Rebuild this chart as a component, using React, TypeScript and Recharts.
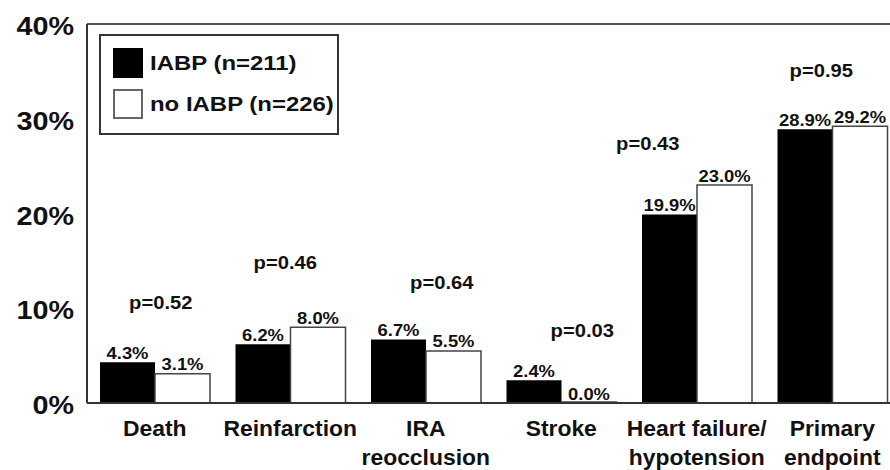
import React from "react";
import { BarChart, Bar, XAxis, YAxis, LabelList, ReferenceLine, ReferenceDot, Legend } from "recharts";

// ─── Data ─────────────────────────────────────────────────────────────────────

const CATEGORIES = [
    "Death",
    "Reinfarction",
    "IRA\nreocclusion",
    "Stroke",
    "Heart failure/\nhypotension",
    "Primary\nendpoint",
];
const IABP = [4.3, 6.2, 6.7, 2.4, 19.9, 28.9];
const NO_IABP = [3.1, 8.0, 5.5, 0.0, 23.0, 29.2];
const P_VALUES = ["p=0.52", "p=0.46", "p=0.64", "p=0.03", "p=0.43", "p=0.95"];
const Y_TICKS = [0, 10, 20, 30, 40];

// where each p-value sits: offset from group centre (px) and height (in %)
const P_PLACE = [
    { dx: 6, at: 10.6 },
    { dx: -5, at: 14.8 },
    { dx: 16, at: 12.7 },
    { dx: 21, at: 7.7 },
    { dx: -49, at: 27.4 },
    { dx: -11, at: 35.1 },
];

const rows = CATEGORIES.map((name, i) => ({ name, iabp: IABP[i], noIabp: NO_IABP[i] }));

const FONT = "'Liberation Sans', Arial, Helvetica, sans-serif";
const INK = "#111";

// text drawn slightly wider than the font, like the scanned figure
function Wide({ x, y, sx, size, anchor, children }: any) {
    return (
        <text
            transform={`translate(${x},${y}) scale(${sx},1)`}
            textAnchor={anchor}
            fontSize={size}
            fontWeight="bold"
            fontFamily={FONT}
            fill={INK}
        >
            {children}
        </text>
    );
}

function YTick({ x, y, payload }: any) {
    return (
        <Wide x={x} y={y + 11} sx={1.15} size={25} anchor="end">
            {payload.value}%
        </Wide>
    );
}

function XTick({ x, y, payload }: any) {
    const lines = String(payload.value).split("\n");
    return (
        <g>
            {lines.map((l, i) => (
                <Wide key={i} x={x} y={y + 33 + i * 29} sx={1.04} size={22} anchor="middle">
                    {l}
                </Wide>
            ))}
        </g>
    );
}

function ValueLabel({ x, y, width, height, value }: any) {
    // bars of 0 get a 1px minimum; label from the real baseline
    const top = Number(value) === 0 ? y + height : y;
    return (
        <Wide x={x + width / 2} y={top - 3.5} sx={1.15} size={16} anchor="middle">
            {Number(value).toFixed(1)}%
        </Wide>
    );
}

function LegendBox({ payload }: any) {
    return (
        <div
            style={{
                width: 240,
                height: 101,
                boxSizing: "border-box",
                border: "2px solid #333",
                background: "#fff",
                position: "relative",
                fontFamily: FONT,
            }}
        >
            {(payload || []).map((p: any, i: number) => (
                <div
                    key={i}
                    style={{ position: "absolute", left: 12, top: 12 + i * 41, display: "flex", alignItems: "center" }}
                >
                    <span
                        style={{
                            width: 30,
                            height: 30,
                            boxSizing: "border-box",
                            background: p.color,
                            border: i === 0 ? "none" : "2px solid #666",
                            display: "inline-block",
                        }}
                    />
                    <span
                        style={{
                            marginLeft: 7,
                            fontSize: 21,
                            fontWeight: "bold",
                            color: INK,
                            whiteSpace: "nowrap",
                            transform: "scaleX(1.14)",
                            transformOrigin: "left center",
                            display: "inline-block",
                        }}
                    >
                        {p.value}
                    </span>
                </div>
            ))}
        </div>
    );
}

export default function App() {
    return (
        <div style={{ position: "absolute", left: 0, top: 0, width: 890, height: 470, overflow: "hidden", background: "#fff" }}>
            <BarChart
                width={900}
                height={470}
                data={rows}
                margin={{ top: 24, right: 0, bottom: 0, left: 0 }}
                barSize={55}
                barGap={0}
            >
                <XAxis
                    dataKey="name"
                    height={67}
                    interval={0}
                    tick={<XTick />}
                    tickLine={false}
                    tickSize={0}
                    tickMargin={0}
                    axisLine={{ stroke: "#333", strokeWidth: 2 }}
                />
                <YAxis
                    width={87}
                    domain={[0, 40]}
                    ticks={Y_TICKS}
                    interval={0}
                    tick={<YTick />}
                    tickLine={false}
                    tickSize={0}
                    tickMargin={13}
                    axisLine={{ stroke: "#333", strokeWidth: 2 }}
                />
                <ReferenceLine y={40} stroke="#555" strokeWidth={2} />
                <Legend
                    layout="vertical"
                    align="center"
                    verticalAlign="middle"
                    content={<LegendBox />}
                    wrapperStyle={{ left: 99, top: 34, width: 240, height: 101 }}
                />
                <Bar dataKey="iabp" name="IABP (n=211)" fill="#000" isAnimationActive={false}>
                    <LabelList dataKey="iabp" content={<ValueLabel />} />
                </Bar>
                <Bar
                    dataKey="noIabp"
                    name="no IABP (n=226)"
                    fill="#fff"
                    stroke="#444"
                    strokeWidth={1.5}
                    minPointSize={1}
                    isAnimationActive={false}
                >
                    <LabelList dataKey="noIabp" content={<ValueLabel />} />
                </Bar>
                {CATEGORIES.map((c, i) => (
                    <ReferenceDot
                        key={c}
                        x={c}
                        y={P_PLACE[i].at}
                        r={0}
                        shape={(props: any) => (
                            <Wide x={props.cx + P_PLACE[i].dx} y={props.cy + 6.5} sx={1.12} size={18} anchor="middle">
                                {P_VALUES[i]}
                            </Wide>
                        )}
                    />
                ))}
            </BarChart>
        </div>
    );
}
